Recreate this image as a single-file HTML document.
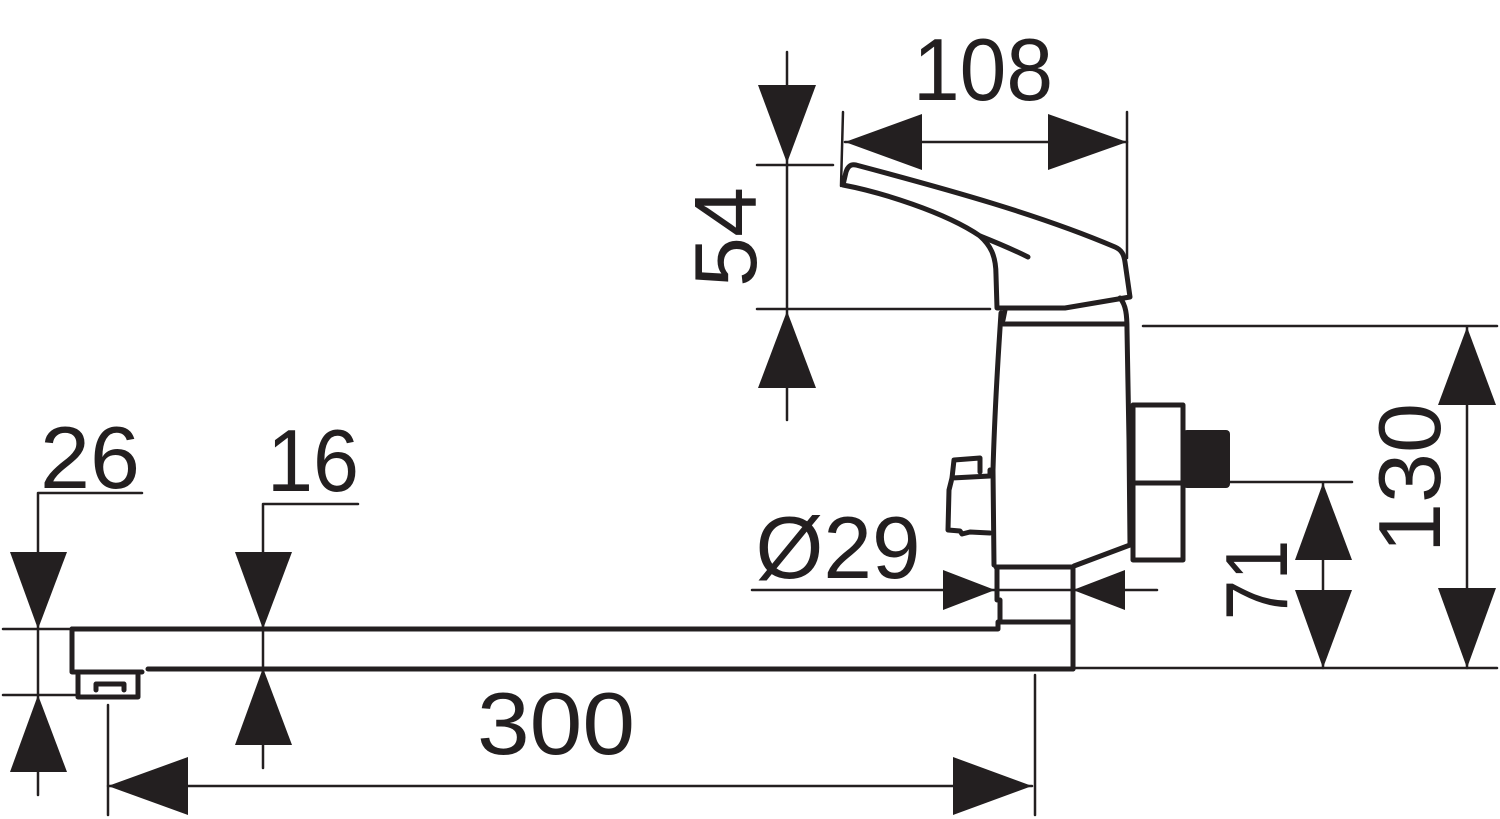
<!DOCTYPE html>
<html><head><style>
html,body{margin:0;padding:0;background:#fff;}
svg{display:block}
text{font-family:"Liberation Sans",sans-serif;fill:#231f20;}
</style></head><body>
<svg width="1500" height="819" viewBox="0 0 1500 819" xmlns="http://www.w3.org/2000/svg">
<g stroke="#231f20" fill="none" stroke-linecap="round" stroke-linejoin="round">
<!-- thin dimension lines -->
<g stroke-width="2.5">
<line x1="843" y1="112" x2="841" y2="186"/>
<line x1="1127" y1="112" x2="1127" y2="258"/>
<line x1="845" y1="142" x2="1127" y2="142"/>
<line x1="787" y1="52" x2="787" y2="420"/>
<line x1="757" y1="165" x2="833" y2="165"/>
<line x1="757" y1="309" x2="990" y2="309"/>
<line x1="1467" y1="327" x2="1467" y2="668"/>
<line x1="1143" y1="326" x2="1497" y2="326"/>
<line x1="1073" y1="668" x2="1497" y2="668"/>
<line x1="1323" y1="483" x2="1323" y2="668"/>
<line x1="1230" y1="482" x2="1352" y2="482"/>
<line x1="752" y1="590" x2="1157" y2="590"/>
<line x1="108" y1="786" x2="1032" y2="786"/>
<line x1="108" y1="705" x2="108" y2="815"/>
<line x1="1035" y1="675" x2="1035" y2="815"/>
<polyline points="142,493 38,493 38,795"/>
<line x1="3" y1="629" x2="70" y2="629"/>
<line x1="3" y1="695" x2="75" y2="695"/>
<polyline points="358,504 263,504 263,768"/>
</g>
<!-- faucet -->
<g stroke-width="5">
<path d="M72,629 L998,629 L998,622"/>
<path d="M72,629 L72,672 L142,672"/>
<path d="M148,669 L1073,669"/>
<path d="M78,675 L78,697 L138,697 L138,675"/>
<path d="M96,690 L96,684 L124,684 L124,690"/>
<path d="M996,567 L1073,567 L1073,669"/>
<path d="M997,567 L997,600 M1000,600 L1000,622 L1073,622"/>
<path d="M1001,313 C998,360 995,400 993,470 L994,565"/>
<path d="M1003,324 L1126,324"/>
<path d="M1005,310 L1003,320"/>
<path d="M1120,298 C1126,305 1127,315 1127,330 L1129,440 L1130,545 L1074,566"/>
<path d="M843,185 L846,172 C848,166 851,164 856,165 C950,190 1040,215 1115,247 C1122,250 1124,255 1125,262 L1130,297 L1065,308 L997,308 L996,275 C996,255 990,245 980,236 C945,212 880,192 843,185 Z"/>
<path d="M980,236 C995,242 1010,248 1028,257"/>
<path d="M990,470 L990,476 L952,478 L949,490 L948,530 L960,531 L962,534 L970,532 L990,533"/>
<path d="M952,478 L954,460 L980,458 L980,472"/>
<rect x="1133" y="405" width="50" height="155"/>
<line x1="1133" y1="483" x2="1183" y2="483"/>
</g>
</g>
<rect x="1183" y="430" width="47" height="58" rx="4" fill="#231f20"/>
<!-- arrowheads -->
<g fill="#231f20">
<polygon points="845,142 922,114 922,170"/>
<polygon points="1127,142 1048,114 1048,170"/>
<polygon points="787,163 758,85 816,85"/>
<polygon points="787,311 758,388 816,388"/>
<polygon points="1467,327 1438,405 1496,405"/>
<polygon points="1467,668 1438,588 1496,588"/>
<polygon points="1323,483 1295,560 1352,560"/>
<polygon points="1323,668 1295,590 1352,590"/>
<polygon points="995,590 943,570 943,610"/>
<polygon points="1073,590 1125,570 1125,610"/>
<polygon points="108,786 188,757 188,815"/>
<polygon points="1032,786 953,757 953,815"/>
<polygon points="38,629 10,552 67,552"/>
<polygon points="38,695 10,772 67,772"/>
<polygon points="263,629 235,552 292,552"/>
<polygon points="263,668 235,745 292,745"/>
</g>
<!-- labels -->
<text x="983" y="100" font-size="88" text-anchor="middle" textLength="140" lengthAdjust="spacingAndGlyphs">108</text>
<text transform="translate(756,237) rotate(-90)" font-size="88" text-anchor="middle" textLength="100" lengthAdjust="spacingAndGlyphs">54</text>
<text transform="translate(1440,478) rotate(-90)" font-size="88" text-anchor="middle" textLength="150" lengthAdjust="spacingAndGlyphs">130</text>
<text transform="translate(1287,580) rotate(-90)" font-size="88" text-anchor="middle" textLength="80" lengthAdjust="spacingAndGlyphs">71</text>
<text x="838" y="578" font-size="88" text-anchor="middle" textLength="165" lengthAdjust="spacingAndGlyphs">Ø29</text>
<text x="556" y="754" font-size="88" text-anchor="middle" textLength="158" lengthAdjust="spacingAndGlyphs">300</text>
<text x="90" y="488" font-size="88" text-anchor="middle" textLength="100" lengthAdjust="spacingAndGlyphs">26</text>
<text x="313" y="491" font-size="88" text-anchor="middle" textLength="92" lengthAdjust="spacingAndGlyphs">16</text>
</svg>
</body></html>
